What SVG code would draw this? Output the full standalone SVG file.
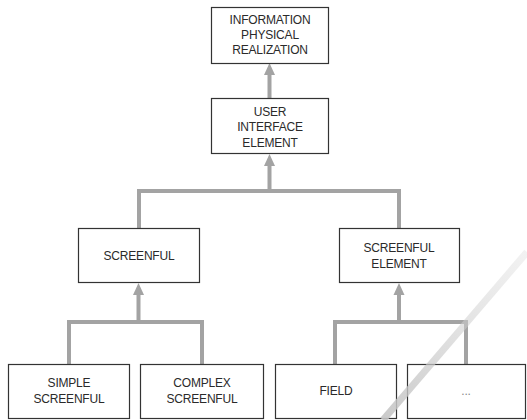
<svg xmlns="http://www.w3.org/2000/svg" width="527" height="420" viewBox="0 0 527 420">
<style>
.box{fill:#fff;stroke:#333;stroke-width:1.2}
.t{font-family:"Liberation Sans",Arial,sans-serif;font-size:12px;fill:#2a2a2a;text-anchor:middle;letter-spacing:-0.2px}
.c{fill:none;stroke:#a3a3a3;stroke-width:4;stroke-linejoin:miter}
.ah{fill:#a3a3a3}
</style>
<defs>
<linearGradient id="wm" x1="527" y1="252" x2="383" y2="420" gradientUnits="userSpaceOnUse">
<stop offset="0" stop-color="#d4d4d4" stop-opacity="0.3"/>
<stop offset="1" stop-color="#c4c4c4" stop-opacity="0.9"/>
</linearGradient>
</defs>
<rect width="527" height="420" fill="#fff"/>
<g id="connectors">
<path class="c" d="M269.5 98 V72"/>
<polygon class="ah" points="269.5,63 264,75 275,75"/>
<path class="c" d="M139 228 V191 H399 V228 M269.5 191 V163"/>
<polygon class="ah" points="269.5,154 264,166 275,166"/>
<path class="c" d="M69 364 V322 H202 V364 M138.5 322 V292"/>
<polygon class="ah" points="138.5,283 133,295 144,295"/>
<path class="c" d="M335 364 V322 H466 V364 M399 322 V292"/>
<polygon class="ah" points="399,283 393.5,295 404.5,295"/>
</g>
<g id="info">
<rect class="box" x="211.5" y="7.5" width="117" height="56"/>
<text class="t" x="270" y="24">INFORMATION</text>
<text class="t" x="270" y="39">PHYSICAL</text>
<text class="t" x="270" y="54">REALIZATION</text>
</g>
<g id="uie">
<rect class="box" x="211.5" y="98.5" width="117" height="55"/>
<text class="t" x="270" y="116">USER</text>
<text class="t" x="270" y="131">INTERFACE</text>
<text class="t" x="270" y="147">ELEMENT</text>
</g>
<g id="screenful">
<rect class="box" x="78.5" y="228.5" width="121" height="54"/>
<text class="t" x="139" y="260">SCREENFUL</text>
</g>
<g id="screenful-element">
<rect class="box" x="339.5" y="228.5" width="120" height="54"/>
<text class="t" x="399" y="252">SCREENFUL</text>
<text class="t" x="399" y="268">ELEMENT</text>
</g>
<g id="simple">
<rect class="box" x="8.5" y="364.5" width="121" height="54"/>
<text class="t" x="69" y="387">SIMPLE</text>
<text class="t" x="69" y="403">SCREENFUL</text>
</g>
<g id="complex">
<rect class="box" x="140.5" y="364.5" width="123" height="54"/>
<text class="t" x="202" y="387">COMPLEX</text>
<text class="t" x="202" y="403">SCREENFUL</text>
</g>
<g id="field">
<rect class="box" x="275.5" y="364.5" width="121" height="54"/>
<text class="t" x="336" y="395">FIELD</text>
</g>
<g id="more">
<rect class="box" x="407.5" y="364.5" width="118" height="54"/>
<text class="t" x="466" y="395" style="fill:#888">...</text>
</g>
<line x1="527" y1="252" x2="383" y2="420" stroke="url(#wm)" stroke-width="7"/>
</svg>
